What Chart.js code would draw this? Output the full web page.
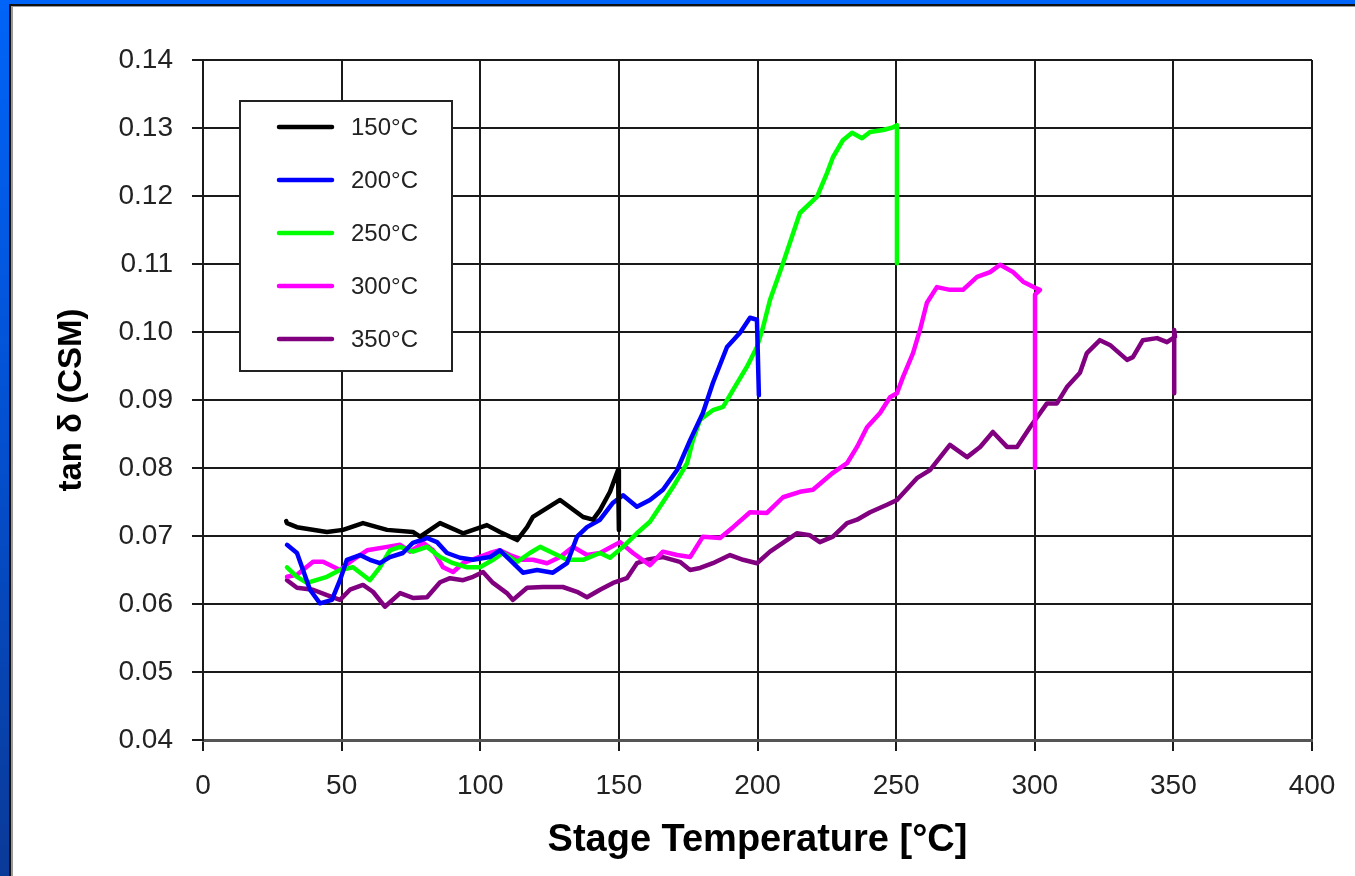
<!DOCTYPE html>
<html lang="en">
<head>
<meta charset="UTF-8">
<title>tan δ vs Stage Temperature</title>
<script src="https://cdn.jsdelivr.net/npm/chart.js"></script>
<style>
  html, body { margin: 0; padding: 0; }
  body {
    width: 1355px; height: 876px; overflow: hidden; position: relative;
    background: linear-gradient(to bottom, #0064f8 0%, #0350d0 50%, #0a3a98 100%);
  }
  .panel {
    position: absolute; left: 9px; top: 4px; right: 0; bottom: 0;
    background: #fff;
    border-left: 2px solid #111; border-top: 2px solid #111;
    box-shadow: inset 2px 1px 0 #9a9a9a;
  }
  #chart { position: absolute; left: 0; top: 0; }
</style>
</head>
<body>
<div class="panel"></div>
<canvas id="chart" width="1355" height="876"></canvas>

<script>
// series labels and colours
const seriesNames = ['150°C', '200°C', '250°C', '300°C', '350°C'];
const seriesColors = ['#000000', '#0000ff', '#00ff00', '#ff00ff', '#800080'];

// stage temperature (x) and tan delta (y)
const temp150 = [30, 30.3, 33.9, 44.7, 50.5, 57.7, 66.4, 75.7, 78.3, 85.5, 93.8, 102.4, 107.1, 113.3, 116.9, 119.0, 128.8, 137.1, 140.7, 143.2, 146.8, 149.7, 150, 150];
const tan150 = [0.0722, 0.0719, 0.0713, 0.0706, 0.0709, 0.0719, 0.0709, 0.0706, 0.0699, 0.0719, 0.0704, 0.0716, 0.0706, 0.0694, 0.0713, 0.0728, 0.0753, 0.0728, 0.0724, 0.0738, 0.0765, 0.0797, 0.0797, 0.0709];

const temp200 = [30.3, 33.9, 38.6, 42.2, 46.5, 49.4, 51.9, 56.6, 60.2, 63.8, 67.4, 72.1, 75.7, 80.8, 84.4, 88.0, 92.7, 97.4, 103.5, 107.1, 110.7, 115.4, 120.5, 126.2, 131.3, 134.9, 138.5, 143.2, 147.9, 151.5, 156.5, 161.2, 165.9, 171.0, 175.7, 180.3, 183.9, 189.0, 193.7, 197.3, 199.8, 200.5];
const tan200 = [0.0687, 0.0675, 0.0621, 0.0601, 0.0606, 0.0635, 0.0665, 0.0672, 0.0665, 0.0660, 0.0669, 0.0675, 0.0690, 0.0697, 0.0691, 0.0675, 0.0668, 0.0665, 0.0669, 0.0679, 0.0665, 0.0646, 0.0650, 0.0646, 0.0660, 0.0699, 0.0713, 0.0724, 0.0749, 0.0760, 0.0743, 0.0753, 0.0768, 0.0797, 0.0841, 0.0881, 0.0925, 0.0978, 0.0999, 0.1021, 0.1018, 0.0907];

const temp250 = [30.3, 33.9, 37.5, 44.7, 49.4, 54.1, 60.2, 63.8, 67.4, 71.1, 75.7, 80.8, 85.5, 90.2, 95.2, 99.9, 104.6, 108.2, 113.3, 117.9, 121.6, 126.2, 131.3, 137.1, 143.2, 146.8, 151.5, 156.5, 161.2, 164.8, 169.5, 174.6, 176.7, 179.3, 183.9, 187.6, 191.2, 196.2, 199.8, 202.0, 204.5, 209.2, 215.3, 221.5, 225.1, 227.2, 230.8, 234.1, 237.7, 240.6, 245.3, 248.9, 250.3, 250.3];
const tan250 = [0.0654, 0.0640, 0.0631, 0.0640, 0.0650, 0.0654, 0.0635, 0.0654, 0.0679, 0.0684, 0.0677, 0.0684, 0.0669, 0.0660, 0.0654, 0.0654, 0.0665, 0.0675, 0.0662, 0.0675, 0.0684, 0.0675, 0.0665, 0.0665, 0.0675, 0.0668, 0.0684, 0.0704, 0.0721, 0.0743, 0.0772, 0.0807, 0.0841, 0.0871, 0.0885, 0.0890, 0.0915, 0.0949, 0.0978, 0.1007, 0.1047, 0.1101, 0.1175, 0.1199, 0.1234, 0.1257, 0.1282, 0.1293, 0.1285, 0.1294, 0.1297, 0.1301, 0.1304, 0.1101];

const temp300 = [30.3, 33.9, 39.7, 43.3, 49.4, 54.1, 59.2, 66.4, 71.1, 74.7, 79.4, 83.0, 86.6, 90.2, 93.8, 98.8, 103.5, 107.1, 110.7, 115.4, 119.0, 124.1, 128.8, 133.5, 138.5, 143.2, 150.4, 155.1, 161.2, 165.9, 171.0, 175.7, 180.3, 186.5, 191.2, 197.3, 203.4, 209.2, 215.3, 220.0, 227.2, 232.3, 235.9, 239.5, 244.2, 247.8, 250.3, 252.5, 256.1, 258.6, 261.1, 264.7, 269.4, 274.1, 279.2, 283.9, 287.5, 292.2, 295.8, 300.1, 301.9, 300.1, 300.1];
const tan300 = [0.0640, 0.0643, 0.0662, 0.0662, 0.0650, 0.0665, 0.0679, 0.0684, 0.0687, 0.0677, 0.0690, 0.0679, 0.0654, 0.0647, 0.0660, 0.0668, 0.0675, 0.0679, 0.0672, 0.0665, 0.0665, 0.0660, 0.0669, 0.0684, 0.0672, 0.0675, 0.0691, 0.0675, 0.0657, 0.0677, 0.0672, 0.0669, 0.0699, 0.0697, 0.0713, 0.0735, 0.0734, 0.0757, 0.0765, 0.0768, 0.0793, 0.0807, 0.0831, 0.0860, 0.0881, 0.0904, 0.0910, 0.0934, 0.0969, 0.1003, 0.1043, 0.1066, 0.1062, 0.1062, 0.1081, 0.1088, 0.1099, 0.1088, 0.1074, 0.1065, 0.1062, 0.1055, 0.0800];

const temp350 = [30.3, 33.9, 39.7, 44.7, 49.4, 53.0, 57.7, 61.3, 65.6, 71.1, 75.7, 80.8, 85.5, 89.1, 93.8, 97.4, 101.0, 104.6, 109.6, 111.8, 116.9, 122.6, 129.8, 134.9, 138.5, 143.2, 147.9, 152.9, 156.5, 160.1, 165.9, 172.0, 175.7, 179.3, 183.9, 190.1, 194.8, 199.8, 204.5, 210.6, 214.2, 218.9, 222.5, 227.2, 232.3, 235.9, 240.6, 246.7, 250.3, 257.5, 262.2, 269.4, 275.6, 280.3, 284.9, 290.0, 293.6, 298.3, 304.4, 308.0, 311.6, 316.3, 318.8, 323.5, 327.1, 333.3, 335.4, 339.0, 344.1, 347.7, 350.6, 350.3, 350.3];
const tan350 = [0.0635, 0.0624, 0.0621, 0.0613, 0.0606, 0.0621, 0.0628, 0.0618, 0.0596, 0.0616, 0.0609, 0.0610, 0.0632, 0.0638, 0.0635, 0.0640, 0.0647, 0.0631, 0.0616, 0.0606, 0.0624, 0.0625, 0.0625, 0.0618, 0.0610, 0.0621, 0.0631, 0.0638, 0.0660, 0.0665, 0.0669, 0.0662, 0.0650, 0.0653, 0.0660, 0.0672, 0.0665, 0.0660, 0.0677, 0.0694, 0.0704, 0.0701, 0.0691, 0.0699, 0.0719, 0.0724, 0.0735, 0.0746, 0.0753, 0.0785, 0.0797, 0.0834, 0.0816, 0.0831, 0.0853, 0.0831, 0.0831, 0.0860, 0.0895, 0.0895, 0.0919, 0.0940, 0.0969, 0.0988, 0.0981, 0.0959, 0.0963, 0.0988, 0.0991, 0.0985, 0.0993, 0.1003, 0.0910];

const temps = [temp150, temp200, temp250, temp300, temp350];
const tans = [tan150, tan200, tan250, tan300, tan350];

// axis settings
const xMin = 0, xMax = 400, xStep = 50;
const yMin = 0.04, yMax = 0.14, yStep = 0.01;

const datasets = seriesNames.map((name, i) => ({
  label: name,
  data: temps[i].map((t, j) => ({ x: t, y: tans[i][j] })),
  borderColor: seriesColors[i],
  backgroundColor: seriesColors[i],
  borderWidth: 4.5,
  pointRadius: 0,
  showLine: true,
  tension: 0,
  borderJoinStyle: 'round',
  borderCapStyle: 'round'
}));

// legend box drawn inside the plot area
const boxLegend = {
  id: 'boxLegend',
  afterDatasetsDraw(chart) {
    const ctx = chart.ctx;
    const x0 = 240, y0 = 101, w = 212, h = 270;
    ctx.save();
    ctx.fillStyle = '#fff';
    ctx.fillRect(x0, y0, w, h);
    ctx.strokeStyle = '#222';
    ctx.lineWidth = 2;
    ctx.strokeRect(x0, y0, w, h);
    ctx.font = '24px "Liberation Sans", Arial, sans-serif';
    ctx.textBaseline = 'middle';
    ctx.fillStyle = '#222';
    chart.data.datasets.forEach((ds, i) => {
      const y = y0 + 26 + i * 53;
      ctx.strokeStyle = ds.borderColor;
      ctx.lineWidth = 4.5;
      ctx.lineCap = 'round';
      ctx.beginPath();
      ctx.moveTo(x0 + 39, y);
      ctx.lineTo(x0 + 92, y);
      ctx.stroke();
      ctx.fillText(ds.label, x0 + 111, y + 1);
    });
    ctx.restore();
  }
};

const tickFont = { family: '"Liberation Sans", Arial, sans-serif', size: 28 };

new Chart(document.getElementById('chart'), {
  type: 'scatter',
  data: { datasets },
  options: {
    responsive: false,
    animation: false,
    layout: { padding: { left: 0, top: 60, right: 43, bottom: 0 } },
    plugins: { legend: { display: false }, tooltip: { enabled: false } },
    scales: {
      x: {
        type: 'linear',
        min: xMin, max: xMax,
        afterFit(s) { s.height = 136; },
        ticks: { stepSize: xStep, color: '#222', font: tickFont, padding: 18, maxRotation: 0 },
        grid: { color: '#1a1a1a', lineWidth: 2, tickLength: 11 },
        border: { color: '#555', width: 3 },
        title: {
          display: true,
          text: 'Stage Temperature [°C]',
          color: '#000',
          font: { family: '"Liberation Sans", Arial, sans-serif', size: 38, weight: 'bold' },
          padding: { top: 0, bottom: 13 }
        }
      },
      y: {
        type: 'linear',
        min: yMin, max: yMax,
        afterFit(s) { s.width = 203; },
        ticks: {
          stepSize: yStep, color: '#222', font: tickFont, padding: 19,
          callback: v => v.toFixed(2)
        },
        grid: { color: '#1a1a1a', lineWidth: 2, tickLength: 11 },
        border: { color: '#1a1a1a', width: 2 },
        title: {
          display: true,
          text: 'tan δ (CSM)',
          color: '#000',
          font: { family: '"Liberation Sans", Arial, sans-serif', size: 33, weight: 'bold' },
          padding: { top: 52, bottom: 0 }
        }
      }
    }
  },
  plugins: [boxLegend]
});
</script>
</body>
</html>
